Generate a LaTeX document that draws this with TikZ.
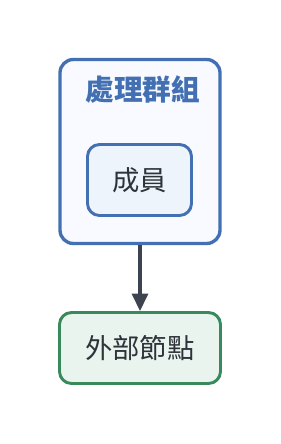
\documentclass[tikz,border=0pt]{standalone}
\usepackage{fontspec}
\setmainfont{Noto Sans CJK TC}
\usepackage{tikz}
\usetikzlibrary{positioning,arrows.meta}
\definecolor{blue600} {HTML}{4270B2}
\definecolor{blue100} {HTML}{EEF4FC}
\definecolor{blue50}  {HTML}{F8FAFF}
\definecolor{green600}{HTML}{388A5C}
\definecolor{green100}{HTML}{EAF4EE}
\definecolor{grey700} {HTML}{3D4450}
\definecolor{grey800} {HTML}{2E333A}
\tikzset{
  grpbox/.style ={draw=blue600, line width=2.5pt, fill=blue50,
                  rounded corners=10pt, minimum width=120pt,
                  minimum height=138pt},
  grptitle/.style={font=\fontsize{21.5}{24}\selectfont\bfseries,
                  text=blue600, inner sep=0pt},
  membox/.style ={draw=blue600, line width=2.2pt, fill=blue100,
                  rounded corners=9pt, minimum width=78pt,
                  minimum height=53.25pt, inner sep=0pt,
                  font=\fontsize{20.5}{23}\selectfont, text=grey800},
  extbox/.style ={draw=green600, line width=2.2pt, fill=green100,
                  rounded corners=9pt, minimum width=120.75pt,
                  minimum height=53.25pt, inner sep=0pt,
                  font=\fontsize{20.5}{23}\selectfont, text=grey800},
  ar/.style     ={-{Triangle[length=13pt, width=12pt]}, draw=grey700,
                  line width=2.4pt}
}
\begin{document}
\begin{tikzpicture}[x=0.75pt, y=-0.75pt]
\useasboundingbox (0,0) rectangle (280,444);
% group frame with its members inside
\node[grpbox]   (grp)    at (140,151.5) {};
\node[grptitle] (title)  at (143,90)    {處理群組};
\node[membox]   (member) at (139.5,180) {成員};
% node outside the group
\node[extbox]   (ext)    at (140,348)   {外部節點};

\draw[ar] (grp) -- (ext);
\end{tikzpicture}
\end{document}
